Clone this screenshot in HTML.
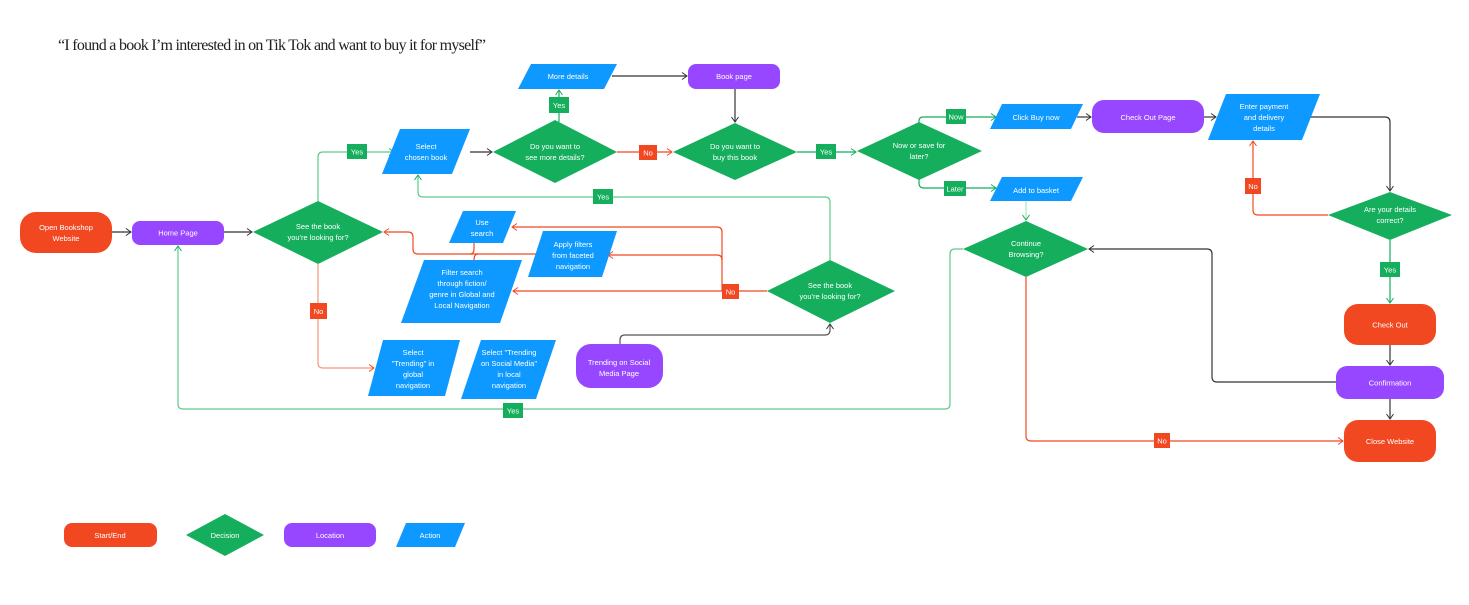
<!DOCTYPE html>
<html><head><meta charset="utf-8"><style>
html,body{margin:0;padding:0;background:#fff;}
svg{display:block;}
text{font-family:"Liberation Sans",sans-serif;font-size:7.5px;fill:#fff;text-anchor:middle;}
</style></head><body>
<svg width="1469" height="605" viewBox="0 0 1469 605" xmlns="http://www.w3.org/2000/svg">
<defs>
<marker id="ak" markerWidth="8" markerHeight="8" refX="6" refY="4" orient="auto" markerUnits="userSpaceOnUse"><path d="M1,0.5 L6,4 L1,7.5" fill="none" stroke="#333" stroke-width="1"/></marker>
<marker id="ag" markerWidth="8" markerHeight="8" refX="6" refY="4" orient="auto" markerUnits="userSpaceOnUse"><path d="M1,0.5 L6,4 L1,7.5" fill="none" stroke="#14AE5C" stroke-width="1"/></marker>
<marker id="ar" markerWidth="8" markerHeight="8" refX="6" refY="4" orient="auto" markerUnits="userSpaceOnUse"><path d="M1,0.5 L6,4 L1,7.5" fill="none" stroke="#F24822" stroke-width="1"/></marker>
</defs>
<rect width="1469" height="605" fill="#fff"/>
<text x="58" y="50" style="font-family:'Liberation Serif',serif;font-size:16px;fill:#222;text-anchor:start" textLength="428">“I found a book I’m interested in on Tik Tok and want to buy it for myself”</text>

<!-- connectors -->
<g fill="none" stroke-width="1.2">
<path d="M112,232 H131" stroke="#333" marker-end="url(#ak)"/>
<path d="M224,232 H252" stroke="#333" marker-end="url(#ak)"/>
<path d="M318,201 V157 Q318,152 323,152 H394" stroke="#5ccb8a" marker-end="url(#ag)"/>
<path d="M318,264 V363 Q318,368 323,368 H374" stroke="#f7957c" marker-end="url(#ar)"/>
<path d="M470,152 H492" stroke="#333" marker-end="url(#ak)"/>
<path d="M559,122 V90" stroke="#14AE5C" marker-end="url(#ag)"/>
<path d="M612,76 H687" stroke="#333" marker-end="url(#ak)"/>
<path d="M735,89 V122" stroke="#333" marker-end="url(#ak)"/>
<path d="M617,152 H672" stroke="#F24822" marker-end="url(#ar)"/>
<path d="M797,152 H856" stroke="#14AE5C" marker-end="url(#ag)"/>
<path d="M919,124 V121 Q919,117 923,117 H996" stroke="#14AE5C" marker-end="url(#ag)"/>
<path d="M919,178 V183 Q919,188 924,188 H996" stroke="#14AE5C" marker-end="url(#ag)"/>
<path d="M1077,117 H1091" stroke="#333" marker-end="url(#ak)"/>
<path d="M1204,117 H1216" stroke="#333" marker-end="url(#ak)"/>
<path d="M1310,117 H1385 Q1390,117 1390,122 V191" stroke="#333" marker-end="url(#ak)"/>
<path d="M1328,215 H1258 Q1253,215 1253,210 V141" stroke="#F24822" marker-end="url(#ar)"/>
<path d="M1390,240 V303" stroke="#14AE5C" marker-end="url(#ag)"/>
<path d="M1390,345 V365" stroke="#333" marker-end="url(#ak)"/>
<path d="M1390,399 V419" stroke="#333" marker-end="url(#ak)"/>
<path d="M1336,382 H1217 Q1212,382 1212,377 V254 Q1212,249 1207,249 H1089" stroke="#333" marker-end="url(#ak)"/>
<path d="M1026,201 V220" stroke="#a8e6c2" marker-end="url(#ag)"/>
<path d="M963,249 H955 Q950,249 950,254 V404 Q950,409 945,409 H183 Q178,409 178,404 V246" stroke="#5ccb8a" marker-end="url(#ag)"/>
<path d="M1026,277 V436 Q1026,441 1031,441 H1343" stroke="#F24822" marker-end="url(#ar)"/>
<path d="M830,260 V202 Q830,197 825,197 H423 Q418,197 418,192 V175" stroke="#5ccb8a" marker-end="url(#ag)"/>
<path d="M767,291 H513" stroke="#F24822" marker-end="url(#ar)"/>
<path d="M722,291 V260 Q722,255 717,255 H608" stroke="#F24822" marker-end="url(#ar)"/>
<path d="M722,260 V232 Q722,227 717,227 H512" stroke="#F24822" marker-end="url(#ar)"/>
<path d="M536,254 H418 Q413,254 413,249 V237 Q413,232 408,232 H384" stroke="#F24822" marker-end="url(#ar)"/>
<path d="M474,243 V249 Q474,254 470,254 M474,260 Q474,254 478,254" stroke="#F24822"/>
<path d="M620,344 V340 Q620,335 625,335 H825 Q830,335 830,330 V324" stroke="#555" marker-end="url(#ak)"/>
</g>

<!-- start/end -->
<g fill="#F24822">
<rect x="20" y="212" width="92" height="41" rx="16"/>
<rect x="1344" y="304" width="92" height="41" rx="14"/>
<rect x="1344" y="420" width="92" height="42" rx="14"/>
<rect x="64" y="523" width="93" height="24" rx="8"/>
</g>
<!-- location -->
<g fill="#9747FF">
<rect x="132" y="221" width="92" height="24" rx="8"/>
<rect x="688" y="64" width="92" height="25" rx="8"/>
<rect x="1092" y="100" width="112" height="33" rx="12"/>
<rect x="1336" y="366" width="108" height="33" rx="11"/>
<rect x="576" y="344" width="87" height="44" rx="15"/>
<rect x="284" y="523" width="92" height="24" rx="8"/>
</g>
<!-- decisions -->
<g fill="#14AE5C">
<polygon points="253,232 318,201 383,232 318,264"/>
<polygon points="493,152 555,120 617,152 555,183"/>
<polygon points="673,152 735,123 797,152 735,180"/>
<polygon points="857,151 919,122 982,151 919,180"/>
<polygon points="1328,215 1390,192 1452,215 1390,240"/>
<polygon points="963,249 1026,221 1088,249 1026,277"/>
<polygon points="767,291 830,260 895,291 830,323"/>
<polygon points="186,535 225,514 264,535 225,556"/>
</g>
<!-- actions -->
<g fill="#0D99FF">
<polygon points="400,129 470,129 452,174 382,174"/>
<polygon points="531,64 617,64 604,89 518,89"/>
<polygon points="1002,104 1083,104 1071,129 990,129"/>
<polygon points="1002,177 1083,177 1071,201 990,201"/>
<polygon points="1226,94 1320,94 1302,140 1208,140"/>
<polygon points="463,211 516,211 503,243 449,243"/>
<polygon points="543,231 617,231 602,277 528,277"/>
<polygon points="424,260 522,260 500,323 401,323"/>
<polygon points="383,340 460,340 445,396 368,396"/>
<polygon points="481,340 556,340 536,399 461,399"/>
<polygon points="406,523 465,523 455,547 396,547"/>
</g>

<!-- labels on connectors -->
<g>
<rect x="347" y="144" width="20" height="15" fill="#14AE5C"/><text x="357" y="154.5">Yes</text>
<rect x="310" y="303" width="17" height="16" fill="#F24822"/><text x="318.5" y="314">No</text>
<rect x="549" y="97" width="20" height="16" fill="#14AE5C"/><text x="559" y="108">Yes</text>
<rect x="639" y="145" width="18" height="15" fill="#F24822"/><text x="648" y="155.5">No</text>
<rect x="816" y="144" width="20" height="15" fill="#14AE5C"/><text x="826" y="154.5">Yes</text>
<rect x="946" y="109" width="20" height="15" fill="#14AE5C"/><text x="956" y="119.5">Now</text>
<rect x="944" y="181" width="22" height="15" fill="#14AE5C"/><text x="955" y="191.5">Later</text>
<rect x="1245" y="178" width="16" height="16" fill="#F24822"/><text x="1253" y="189">No</text>
<rect x="1380" y="262" width="20" height="15" fill="#14AE5C"/><text x="1390" y="272.5">Yes</text>
<rect x="593" y="189" width="20" height="15" fill="#14AE5C"/><text x="603" y="199.5">Yes</text>
<rect x="722" y="284" width="17" height="15" fill="#F24822"/><text x="730.5" y="294.5">No</text>
<rect x="503" y="403" width="20" height="15" fill="#14AE5C"/><text x="513" y="413.5">Yes</text>
<rect x="1154" y="433" width="16" height="15" fill="#F24822"/><text x="1162" y="443.5">No</text>
</g>

<!-- node text -->
<g>
<text x="66" y="230">Open Bookshop</text><text x="66" y="241">Website</text>
<text x="178" y="235.5">Home Page</text>
<text x="318" y="229">See the book</text><text x="318" y="240">you're looking for?</text>
<text x="426" y="149">Select</text><text x="426" y="160">chosen book</text>
<text x="555" y="149">Do you want to</text><text x="555" y="160">see more details?</text>
<text x="568" y="79">More details</text>
<text x="734" y="79">Book page</text>
<text x="735" y="149">Do you want to</text><text x="735" y="160">buy this book</text>
<text x="919" y="148">Now or save for</text><text x="919" y="159">later?</text>
<text x="1036" y="120">Click Buy now</text>
<text x="1036" y="193">Add to basket</text>
<text x="1148" y="120">Check Out Page</text>
<text x="1264" y="109">Enter payment</text><text x="1264" y="120">and delivery</text><text x="1264" y="131">details</text>
<text x="1390" y="212">Are your details</text><text x="1390" y="223">correct?</text>
<text x="1390" y="327.5">Check Out</text>
<text x="1390" y="385.5">Confirmation</text>
<text x="1390" y="444">Close Website</text>
<text x="1026" y="246">Continue</text><text x="1026" y="257">Browsing?</text>
<text x="830" y="288">See the book</text><text x="830" y="299">you're looking for?</text>
<text x="482" y="225">Use</text><text x="482" y="236">search</text>
<text x="573" y="247">Apply filters</text><text x="573" y="258">from faceted</text><text x="573" y="269">navigation</text>
<text x="462" y="275">Filter search</text><text x="462" y="286">through fiction/</text><text x="462" y="297">genre in Global and</text><text x="462" y="308">Local Navigation</text>
<text x="413" y="355">Select</text><text x="413" y="366">"Trending" in</text><text x="413" y="377">global</text><text x="413" y="388">navigation</text>
<text x="509" y="355">Select "Trending</text><text x="509" y="366">on Social Media"</text><text x="509" y="377">in local</text><text x="509" y="388">navigation</text>
<text x="619" y="365">Trending on Social</text><text x="619" y="376">Media Page</text>
<text x="110" y="538">Start/End</text>
<text x="225" y="538">Decision</text>
<text x="330" y="538">Location</text>
<text x="430" y="538">Action</text>
</g>
</svg>
</body></html>
